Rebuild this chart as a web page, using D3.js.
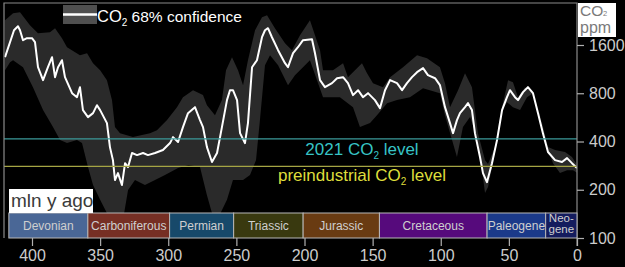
<!DOCTYPE html>
<html>
<head>
<meta charset="utf-8">
<script src="https://d3js.org/d3.v7.min.js"></script>
<style>
  body { margin: 0; background: #000; }
  svg { display: block; }
</style>
</head>
<body>
<div id="chart"></div>
<script>
// CO2 best estimate (age in Myr ago, ppm)
const co2Age = [
  419.8, 413.2, 410.3, 408.8, 406.6, 403.7, 400, 397.8, 395.6, 391.9,
  388.3, 385.3, 383.1, 380.9, 378.0, 375.8, 370.6, 367.0, 364.8, 362.6,
  358.9, 355.2, 352.3, 350, 345, 342.8, 340.6, 339.1, 336.9, 334.0,
  331.7, 329.5, 326.6, 322.9, 318.5, 314.9, 309.7, 303.9, 298.7, 296.5,
  292.8, 289.2, 285.5, 280.4, 276.7, 274.5, 271.6, 267.9, 264.2, 260.6,
  256.9, 254.7, 252.5, 249.5, 247.3, 243.7, 241.5, 238.5, 234.9, 231.2,
  229.0, 226.8, 223.9, 219.4, 214.3, 212.1, 208.4, 204.8, 201.1, 194.5,
  192.3, 188.6, 185.0, 179.8, 176.1, 171.7, 168.1, 164.4, 160.7, 157.1,
  153.4, 148.3, 144.6, 140.9, 137.2, 132.1, 128.4, 124.8, 121.1, 117.4,
  113.0, 109.4, 104.2, 100.6, 96.9, 93.2, 91.0, 88.1, 85.9, 82.2,
  80.0, 77.1, 74.9, 71.2, 69.0, 66.1, 62.4, 58.7, 55.0, 51.4,
  49.2, 45.5, 43.3, 39.6, 36.0, 32.3, 28.6, 25.0, 21.3, 16.1,
  11.0, 7.3, 3.7, 0
];
const co2Ppm = [
  1343, 1978, 2096, 1978, 1714, 1764, 1764, 1666, 1163, 966,
  1163, 1343, 1008, 1163, 1286, 1008, 801, 756, 873, 628,
  568, 601, 674, 628, 521, 369, 306, 230, 254, 214,
  293, 277, 339, 329, 339, 329, 339, 354, 391, 426,
  397, 492, 601, 655, 544, 492, 369, 298, 339, 492,
  725, 836, 836, 725, 451, 391, 521, 1163, 1286, 1789,
  1978, 2037, 1789, 1485, 1232, 1163, 1422, 1550, 1714, 1739,
  1422, 966, 873, 925, 993, 1008, 925, 779, 836, 756,
  801, 725, 646, 836, 966, 925, 836, 925, 1008, 1083,
  1147, 1037, 993, 900, 655, 521, 451, 544, 601, 655,
  694, 628, 451, 320, 254, 223, 293, 408, 628, 756,
  836, 756, 725, 813, 873, 801, 601, 451, 344, 306,
  298, 315, 293, 273
];

// 68% confidence band, upper edge
const hiAge = [
  419.8, 413.9, 408.8, 401.5, 395.6, 386.8, 383.1, 378.0, 374.3, 364.8,
  359.6, 355.2, 350, 345, 341.3, 339.1, 335.4, 325.9, 313.4, 308.3,
  300.9, 293.6, 289.2, 281.8, 274.5, 271.6, 265.7, 260.6, 257.6, 253.2,
  248.8, 245.1, 241.5, 236.3, 231.2, 227.5, 221.7, 214.3, 209.2, 203.3,
  196.0, 188.6, 186.4, 179.1, 171.7, 168.1, 157.8, 154.1, 149.7, 142.4,
  137.2, 127.7, 117.4, 110.1, 100.6, 96.9, 93.2, 87.3, 82.2, 77.1,
  72.7, 67.5, 65.3, 60.2, 55.0, 50.6, 47.0, 43.3, 38.2, 33.0,
  25.7, 21.3, 16.1, 8.8, 3.7, 0
];
const hiPpm = [
  2284, 2525, 2562, 2126, 1895, 1923, 2037, 1764, 1550, 1382,
  1422, 1232, 1115, 966, 725, 492, 451, 426, 451, 471,
  544, 655, 756, 836, 779, 674, 584, 725, 1115, 1343,
  1115, 899, 1286, 1978, 2385, 2454, 2037, 1642, 1485, 1842,
  2284, 1485, 1115, 1115, 1232, 1008, 1232, 1068, 925, 873,
  1008, 1163, 1382, 1324, 1163, 925, 655, 836, 1068, 873,
  451, 306, 290, 369, 655, 966, 938, 756, 873, 836,
  521, 369, 354, 344, 320, 285
];

// 68% confidence band, lower edge
const loAge = [
  419.8, 416.1, 413.9, 406.6, 399.3, 391.9, 384.6, 379.4, 374.3, 367.0,
  363.3, 358.9, 355.2, 350, 345, 332.5, 329.5, 324.4, 317.1, 309.7,
  302.4, 292.8, 285.1, 276.7, 271.6, 267.9, 262.0, 256.9, 252.5, 245.1,
  240.0, 235.6, 232.7, 229.0, 225.3, 219.4, 212.1, 207.0, 201.1, 196.0,
  190.8, 186.4, 174.0, 164.4, 159.3, 151.9, 146.8, 139.4, 132.1, 122.6,
  113.0, 100.6, 96.9, 91.7, 88.1, 83.7, 78.5, 73.4, 69.7, 67.5,
  65.3, 62.4, 58.7, 55.0, 51.4, 47.0, 41.8, 36.7, 32.3, 27.2,
  22.0, 17.6, 12.5, 7.3, 2.9, 0
];
const loPpm = [
  1115, 1250, 1286, 1163, 873, 628, 492, 408, 391, 408,
  391, 277, 214, 173, 143, 141, 199, 230, 214, 230,
  247, 273, 285, 277, 185, 143, 141, 173, 230, 230,
  247, 306, 544, 1198, 1382, 1198, 899, 1037, 1163, 1286,
  966, 756, 756, 655, 492, 521, 584, 694, 725, 756,
  861, 801, 584, 408, 320, 492, 568, 426, 265, 191,
  208, 277, 391, 628, 704, 655, 628, 756, 801, 584,
  369, 293, 254, 265, 265, 255
];

// geologic periods
const periodNames = ["Devonian", "Carboniferous", "Permian", "Triassic", "Jurassic", "Cretaceous", "Paleogene", "Neo-|gene"];
const periodStart = [417, 359, 299, 252, 201, 145, 66, 23];
const periodEnd = [359, 299, 252, 201, 145, 66, 23, 0];
const periodColors = ["#4a6796", "#762f24", "#17496a", "#39390f", "#693b12", "#560a7c", "#1b3a8a", "#141c5e"];

const xTicks = [400, 350, 300, 250, 200, 150, 100, 50, 0];
const yTicks = [100, 200, 400, 800, 1600];
const co2Now = 415;        // 2021 level
const co2Preind = 280;     // preindustrial level

const width = 625;
const height = 267;
const font = "'Liberation Sans', Arial, Helvetica, sans-serif";

const plotLeft = 4, plotRight = 577, plotTop = 3, plotBottom = 238;
const barTop = 213;

const x = d3.scaleLinear().domain([400, 0]).range([32, 577]);
const y = d3.scaleLog().domain([100, 1600]).range([238, 45]);

const svg = d3.select("#chart")
  .append("svg")
  .attr("width", width)
  .attr("height", height)
  .style("background", "#000");

svg.append("defs").append("clipPath")
  .attr("id", "plot-clip")
  .append("rect")
  .attr("x", plotLeft)
  .attr("y", plotTop)
  .attr("width", plotRight - plotLeft)
  .attr("height", barTop - plotTop);

const plot = svg.append("g").attr("clip-path", "url(#plot-clip)");

// confidence band: upper edge forward, lower edge back
const hi = hiAge.map((a, i) => [a, hiPpm[i]]);
const lo = loAge.map((a, i) => [a, loPpm[i]]).reverse();
const edge = d3.line().x(d => x(d[0])).y(d => y(d[1]));

plot.append("path")
  .attr("d", edge(hi.concat(lo)) + "Z")
  .attr("fill", "#2a2a2a");

// reference levels
svg.append("line")
  .attr("x1", plotLeft).attr("x2", plotRight)
  .attr("y1", y(co2Now)).attr("y2", y(co2Now))
  .attr("stroke", "#3b9a9a")
  .attr("stroke-width", 1.3);

svg.append("line")
  .attr("x1", plotLeft).attr("x2", plotRight)
  .attr("y1", y(co2Preind)).attr("y2", y(co2Preind))
  .attr("stroke", "#a5a544")
  .attr("stroke-width", 1.3);

// best estimate
const co2 = co2Age.map((a, i) => [a, co2Ppm[i]]);
plot.append("path")
  .attr("d", edge(co2))
  .attr("fill", "none")
  .attr("stroke", "#fff")
  .attr("stroke-width", 2)
  .attr("stroke-linejoin", "round");

// level labels
const nowLabel = svg.append("text")
  .attr("x", 362).attr("y", 155)
  .attr("text-anchor", "middle")
  .attr("fill", "#37c4c6")
  .style("font-family", font)
  .style("font-size", "17px");
nowLabel.append("tspan").text("2021 CO");
nowLabel.append("tspan").attr("dy", 4).style("font-size", "10px").text("2");
nowLabel.append("tspan").attr("dy", -4).text(" level");

const preLabel = svg.append("text")
  .attr("x", 362).attr("y", 181)
  .attr("text-anchor", "middle")
  .attr("fill", "#dede3c")
  .style("font-family", font)
  .style("font-size", "17px");
preLabel.append("tspan").text("preindustrial CO");
preLabel.append("tspan").attr("dy", 4).style("font-size", "10px").text("2");
preLabel.append("tspan").attr("dy", -4).text(" level");

// frame
svg.append("path")
  .attr("d", `M${plotLeft},${plotBottom}V${plotTop}H${plotRight}V${plotBottom + 8}`)
  .attr("fill", "none")
  .attr("stroke", "#8a8a8a")
  .attr("stroke-width", 1.2);

// period bar
const periods = periodNames.map((name, i) => ({
  name, start: periodStart[i], end: periodEnd[i], color: periodColors[i]
}));

const cells = svg.append("g")
  .selectAll("g")
  .data(periods)
  .join("g");

cells.append("rect")
  .attr("x", d => x(d.start))
  .attr("y", barTop)
  .attr("width", d => x(d.end) - x(d.start))
  .attr("height", plotBottom - barTop)
  .attr("fill", d => d.color)
  .attr("stroke", "#b8b8b8")
  .attr("stroke-width", 1);

cells.each(function(d) {
  const parts = d.name.split("|");
  const cx = (x(d.start) + x(d.end)) / 2;
  parts.forEach((p, i) => {
    d3.select(this).append("text")
      .attr("x", cx)
      .attr("y", parts.length === 1 ? 230 : 222 + i * 11)
      .attr("text-anchor", "middle")
      .attr("fill", "#cfcfcf")
      .style("font-family", font)
      .style("font-size", parts.length === 1 ? "12px" : "11.5px")
      .text(p);
  });
});

// x axis
svg.append("g")
  .attr("transform", `translate(0,${plotBottom})`)
  .call(d3.axisBottom(x).tickValues(xTicks).tickSize(8).tickPadding(4))
  .call(g => g.select(".domain").remove())
  .call(g => g.selectAll(".tick line").attr("stroke", "#b0b0b0").attr("stroke-width", 1.2))
  .call(g => g.selectAll("text")
    .attr("fill", "#cccccc")
    .style("font-family", font)
    .style("font-size", "16px"));

// y axis (right)
svg.append("g")
  .attr("transform", `translate(${plotRight},0)`)
  .call(d3.axisRight(y).tickValues(yTicks).tickFormat(d3.format("d")).tickSize(7).tickPadding(5))
  .call(g => g.select(".domain").remove())
  .call(g => g.selectAll(".tick line").attr("stroke", "#b0b0b0").attr("stroke-width", 1.2))
  .call(g => g.selectAll("text")
    .attr("fill", "#cccccc")
    .style("font-family", font)
    .style("font-size", "16px"));

// unit box
svg.append("rect")
  .attr("x", 578).attr("y", plotTop)
  .attr("width", 38).attr("height", 34)
  .attr("fill", "#fff");

svg.append("text")
  .attr("x", 580).attr("y", 16)
  .attr("fill", "#7a7a7a")
  .style("font-family", font)
  .style("font-size", "15.5px")
  .text("CO");
svg.append("text")
  .attr("x", 603).attr("y", 16)
  .attr("fill", "#7a7a7a")
  .style("font-family", font)
  .style("font-size", "7.5px")
  .text("2");
svg.append("text")
  .attr("x", 580).attr("y", 33)
  .attr("fill", "#7a7a7a")
  .style("font-family", font)
  .style("font-size", "16px")
  .text("ppm");

// x label box
svg.append("rect")
  .attr("x", 9).attr("y", 189)
  .attr("width", 84).attr("height", barTop - 189)
  .attr("fill", "#fff");

svg.append("text")
  .attr("x", 11).attr("y", 207)
  .attr("fill", "#3a3a3a")
  .style("font-family", font)
  .style("font-size", "19px")
  .text("mln y ago");

// legend
const legend = svg.append("g");
legend.append("rect")
  .attr("x", 63).attr("y", 5)
  .attr("width", 34).attr("height", 19)
  .attr("fill", "#4f4f4f");
legend.append("line")
  .attr("x1", 63).attr("x2", 97)
  .attr("y1", 14.5).attr("y2", 14.5)
  .attr("stroke", "#fff")
  .attr("stroke-width", 2.5);

const legText = legend.append("text")
  .attr("x", 97).attr("y", 22)
  .attr("fill", "#fff")
  .style("font-family", font)
  .style("font-size", "16.5px");
legText.append("tspan").text("CO");
legText.append("tspan").attr("dy", 4).style("font-size", "10px").text("2");
legText.append("tspan").attr("dy", -4).style("font-size", "15.5px").text(" 68% confidence");
</script>
</body>
</html>
